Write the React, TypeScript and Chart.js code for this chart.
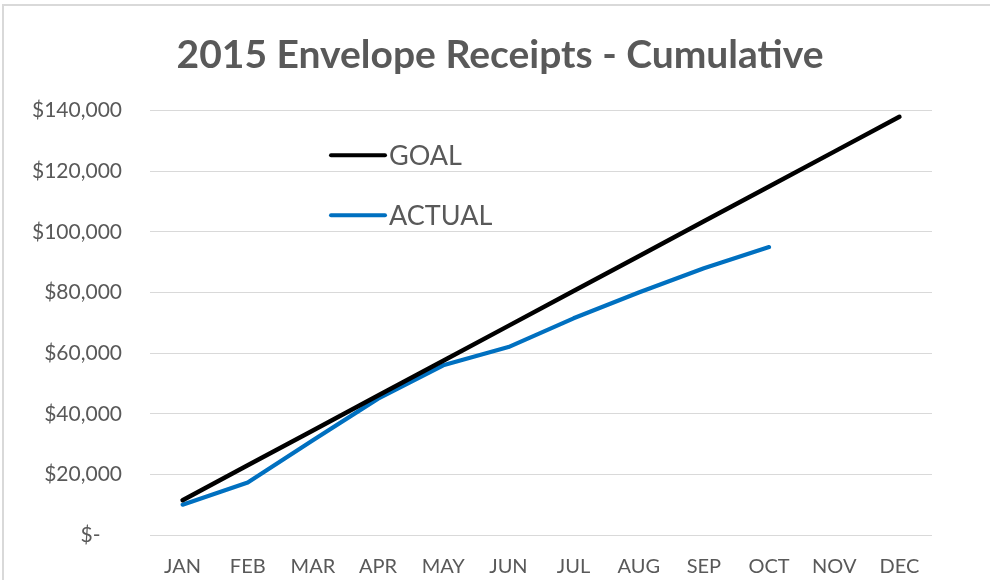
import React, { useEffect, useRef } from "react";
import { Chart, registerables } from "chart.js";

Chart.register(...registerables);

const TITLE = "2015 Envelope Receipts - Cumulative";
const MONTHS = ["JAN", "FEB", "MAR", "APR", "MAY", "JUN", "JUL", "AUG", "SEP", "OCT", "NOV", "DEC"];
const GOAL = [11500, 23000, 34500, 46000, 57500, 69000, 80500, 92000, 103500, 115000, 126500, 138000];
const ACTUAL = [10000, 17300, 31300, 45000, 56000, 62000, 71500, 80000, 88000, 95000];
const SERIES_LABELS = ["GOAL", "ACTUAL"];
const Y_MIN = 0;
const Y_MAX = 140000;
const Y_STEP = 20000;

const TEXT = "#595959";
const FONT = "Lato, 'Open Sans', sans-serif";

const titlePlugin = {
  id: "centeredTitle",
  afterDraw(chart: any) {
    const { ctx } = chart;
    ctx.save();
    ctx.fillStyle = TEXT;
    ctx.font = `bold 39px ${FONT}`;
    ctx.textAlign = "center";
    ctx.textBaseline = "middle";
    ctx.fillText(TITLE, chart.width / 2 + 5, 55);
    ctx.restore();
  },
};

const legendPlugin = {
  id: "insideLegend",
  afterDatasetsDraw(chart: any) {
    const { ctx, chartArea } = chart;
    const x0 = chartArea.left + 181;
    const ys = [chartArea.top + 44.5, chartArea.top + 104.5];
    chart.data.datasets.forEach((ds: any, i: number) => {
      const y = ys[i];
      ctx.save();
      ctx.strokeStyle = ds.borderColor;
      ctx.lineWidth = 4;
      ctx.lineCap = "round";
      ctx.beginPath();
      ctx.moveTo(x0, y);
      ctx.lineTo(x0 + 54, y);
      ctx.stroke();
      ctx.fillStyle = TEXT;
      ctx.font = `27px ${FONT}`;
      ctx.textAlign = "left";
      ctx.textBaseline = "middle";
      ctx.fillText(ds.label, x0 + 58, y + 1);
      ctx.restore();
    });
  },
};

export default function App() {
  const ref = useRef<HTMLCanvasElement | null>(null);

  useEffect(() => {
    document.body.style.margin = "0";
    const canvas = ref.current;
    if (!canvas) return;
    const chart = new Chart(canvas, {
      type: "line",
      data: {
        labels: MONTHS,
        datasets: [
          {
            label: SERIES_LABELS[0],
            data: GOAL,
            borderColor: "#000000",
            backgroundColor: "#000000",
            borderWidth: 4.5,
            pointRadius: 0,
            borderCapStyle: "round",
            borderJoinStyle: "round",
            tension: 0,
          },
          {
            label: SERIES_LABELS[1],
            data: ACTUAL,
            borderColor: "#0070C0",
            backgroundColor: "#0070C0",
            borderWidth: 4.2,
            pointRadius: 0,
            borderCapStyle: "round",
            borderJoinStyle: "round",
            tension: 0,
          },
        ],
      },
      options: {
        animation: false,
        responsive: false,
        maintainAspectRatio: false,
        layout: { padding: { left: 0, right: 58, top: 110.7, bottom: 0 } },
        plugins: {
          legend: { display: false },
          tooltip: { enabled: false },
          title: { display: false },
        },
        scales: {
          x: {
            offset: true,
            grid: { display: false, drawTicks: false },
            border: { display: false },
            ticks: {
              color: TEXT,
              font: { family: FONT, size: 20 },
              padding: 20,
              maxRotation: 0,
              autoSkip: false,
            },
            afterFit: (s: any) => {
              s.height = 45;
            },
          },
          y: {
            min: Y_MIN,
            max: Y_MAX,
            grid: { color: "#d9d9d9", lineWidth: 1, drawTicks: false },
            border: { display: false },
            ticks: {
              stepSize: Y_STEP,
              color: TEXT,
              font: { family: FONT, size: 21 },
              padding: 28,
              callback: (v: any) =>
                Number(v) === 0 ? "$-    " : "$" + Number(v).toLocaleString("en-US"),
            },
            afterFit: (s: any) => {
              s.width = 150;
            },
          },
        },
      },
      plugins: [legendPlugin, titlePlugin],
    } as any);
    return () => chart.destroy();
  }, []);

  return (
    <div style={{ position: "relative", width: 990, height: 580, background: "#fff", overflow: "hidden" }}>
      <canvas ref={ref} width={990} height={580} style={{ position: "absolute", left: 0, top: 0 }} />
      <div style={{ position: "absolute", left: 2, top: 4, right: 0, height: 2, background: "#d9d9d9" }} />
      <div style={{ position: "absolute", left: 2, top: 4, bottom: 0, width: 2, background: "#d9d9d9" }} />
    </div>
  );
}
